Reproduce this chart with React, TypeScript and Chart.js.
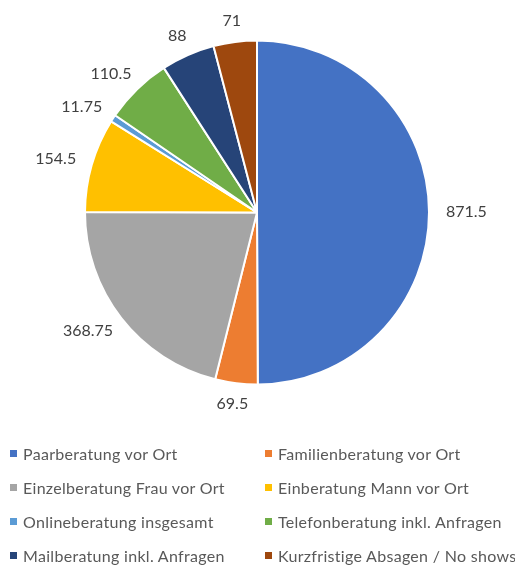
import React, { useEffect, useRef } from "react";
import { Chart, registerables } from "chart.js";

Chart.register(...registerables);

const categories = [
  "Paarberatung vor Ort",
  "Familienberatung vor Ort",
  "Einzelberatung Frau vor Ort",
  "Einberatung Mann vor Ort",
  "Onlineberatung insgesamt",
  "Telefonberatung inkl. Anfragen",
  "Mailberatung inkl. Anfragen",
  "Kurzfristige Absagen / No shows",
];
const values = [871.5, 69.5, 368.75, 154.5, 11.75, 110.5, 88, 71];
const valueLabels = ["871.5", "69.5", "368.75", "154.5", "11.75", "110.5", "88", "71"];
const colors = ["#4472C4", "#ED7D31", "#A5A5A5", "#FFC000", "#5B9BD5", "#70AD47", "#264478", "#9E480E"];

const FONT = "Lato, 'Open Sans', sans-serif";

const labelPlugin = {
  id: "outsideLabels",
  afterDatasetsDraw(chart: any) {
    const ctx = chart.ctx;
    const meta = chart.getDatasetMeta(0);
    ctx.save();
    ctx.font = `16px ${FONT}`;
    ctx.fillStyle = "#404040";
    ctx.textAlign = "center";
    ctx.textBaseline = "middle";
    meta.data.forEach((arc: any, i: number) => {
      const p = arc.getProps(["x", "y", "startAngle", "endAngle", "outerRadius"], true);
      const mid = (p.startAngle + p.endAngle) / 2;
      const ux = Math.cos(mid);
      const uy = Math.sin(mid);
      const text = valueLabels[i];
      const w = ctx.measureText(text).width;
      const h = 13;
      const d = p.outerRadius + 17;
      const cx = p.x + ux * d + ux * (w / 2);
      const cy = p.y + uy * d + uy * (h * 0.3);
      ctx.fillText(text, cx, cy);
    });
    ctx.restore();
  },
};

export default function App() {
  const ref = useRef<HTMLCanvasElement | null>(null);
  useEffect(() => {
    if (!ref.current) return;
    const chart = new Chart(ref.current, {
      type: "pie",
      data: {
        labels: categories,
        datasets: [
          {
            data: values,
            backgroundColor: colors,
            borderColor: "#ffffff",
            borderWidth: 2,
          },
        ],
      },
      options: {
        animation: false,
        responsive: false,
        radius: 172,
        layout: { padding: { top: 30, bottom: 171, left: 0, right: 1 } },
        plugins: {
          legend: { display: false },
          tooltip: { enabled: false },
        },
      } as any,
      plugins: [labelPlugin],
    });
    return () => chart.destroy();
  }, []);

  return (
    <div style={{ position: "absolute", left: 0, top: 0, width: 515, height: 566, background: "#fff", fontFamily: FONT }}>
      <canvas ref={ref} width={515} height={566} style={{ position: "absolute", left: 0, top: 0 }} />
      <div
        style={{
          position: "absolute",
          left: 10,
          top: 436,
          display: "grid",
          gridTemplateColumns: "255px 250px",
          gridAutoRows: "34px",
        }}
      >
        {categories.map((c, i) => (
          <div
            key={c}
            style={{
              display: "flex",
              alignItems: "center",
              color: "#595959",
              fontSize: 16,
              letterSpacing: 0.3,
              whiteSpace: "nowrap",
            }}
          >
            <span style={{ display: "inline-block", width: 7, height: 7, background: colors[i], marginRight: 6, flex: "none" }} />
            <span>{c}</span>
          </div>
        ))}
      </div>
    </div>
  );
}
